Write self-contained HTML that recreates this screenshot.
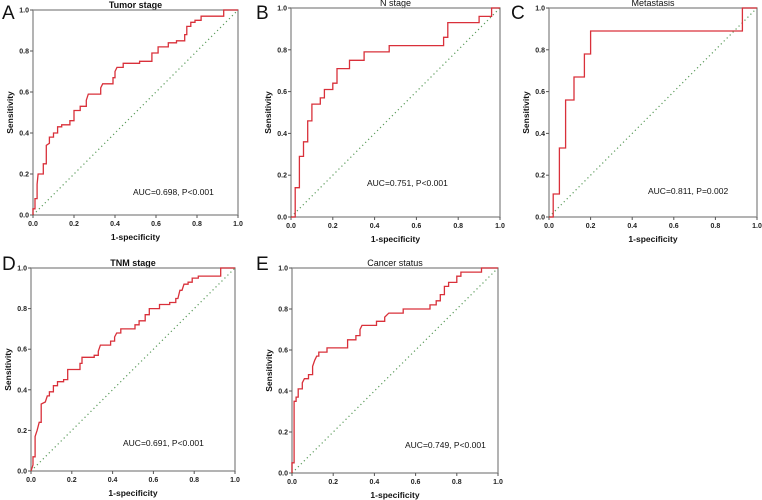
<!DOCTYPE html>
<html><head><meta charset="utf-8"><style>
html,body{margin:0;padding:0;background:#fff;}
svg{display:block;font-family:"Liberation Sans",Arial,sans-serif;}
</style></head><body>
<svg id="fig" width="762" height="500" viewBox="0 0 762 500" xmlns="http://www.w3.org/2000/svg"></svg>
<script>
const ticks = [0, 0.2, 0.4, 0.6, 0.8, 1.0];
const tickLabels = ["0.0","0.2","0.4","0.6","0.8","1.0"];
const panelLetters = ["A","B","C","D","E"];
const panelTitles = ["Tumor stage","N stage","Metastasis","TNM stage","Cancer status"];
const aucLabels = ["AUC=0.698, P<0.001","AUC=0.751, P<0.001","AUC=0.811, P=0.002","AUC=0.691, P<0.001","AUC=0.749, P<0.001"];
const fprA = [0,0,0.01,0.01,0.02,0.02,0.025,0.05,0.05,0.065,0.065,0.08,0.08,0.1,0.1,0.12,0.12,0.14,0.14,0.18,0.18,0.2,0.2,0.23,0.23,0.26,0.26,0.27,0.33,0.33,0.34,0.39,0.39,0.4,0.4,0.41,0.44,0.44,0.52,0.52,0.58,0.58,0.61,0.61,0.66,0.66,0.7,0.7,0.74,0.74,0.75,0.75,0.77,0.77,0.79,0.79,0.82,0.82,0.93,0.93,1];
const tprA = [0,0.03,0.03,0.08,0.08,0.15,0.2,0.2,0.25,0.25,0.34,0.35,0.38,0.38,0.4,0.4,0.43,0.43,0.44,0.44,0.46,0.46,0.51,0.51,0.53,0.53,0.56,0.59,0.59,0.62,0.64,0.64,0.67,0.67,0.7,0.72,0.72,0.74,0.74,0.75,0.75,0.79,0.79,0.82,0.82,0.84,0.84,0.85,0.85,0.88,0.88,0.92,0.92,0.94,0.94,0.95,0.95,0.97,0.97,1,1];
const fprB = [0,0.02,0.02,0.04,0.04,0.06,0.06,0.08,0.08,0.1,0.1,0.14,0.14,0.16,0.16,0.2,0.2,0.22,0.22,0.28,0.28,0.35,0.35,0.47,0.47,0.73,0.73,0.75,0.75,0.9,0.9,0.96,0.96,1];
const tprB = [0,0,0.14,0.14,0.29,0.29,0.36,0.36,0.46,0.46,0.54,0.54,0.57,0.57,0.61,0.61,0.64,0.64,0.71,0.71,0.75,0.75,0.79,0.79,0.82,0.82,0.86,0.86,0.93,0.93,0.96,0.96,1,1];
const fprC = [0,0.02,0.02,0.05,0.05,0.08,0.08,0.12,0.12,0.17,0.17,0.2,0.2,0.93,0.93,1];
const tprC = [0,0,0.11,0.11,0.33,0.33,0.56,0.56,0.67,0.67,0.78,0.78,0.89,0.89,1,1];
const fprD = [0,0.01,0.01,0.02,0.02,0.03,0.04,0.05,0.05,0.07,0.08,0.09,0.09,0.11,0.11,0.13,0.13,0.16,0.16,0.18,0.18,0.24,0.24,0.25,0.25,0.31,0.31,0.33,0.33,0.34,0.39,0.39,0.41,0.41,0.42,0.44,0.44,0.51,0.51,0.53,0.53,0.56,0.56,0.58,0.58,0.63,0.63,0.68,0.68,0.71,0.71,0.72,0.73,0.74,0.75,0.77,0.77,0.79,0.79,0.82,0.82,0.93,0.93,1];
const tprD = [0,0.03,0.07,0.07,0.17,0.2,0.24,0.24,0.33,0.34,0.37,0.37,0.39,0.39,0.42,0.42,0.44,0.44,0.45,0.45,0.5,0.5,0.53,0.53,0.56,0.56,0.57,0.57,0.59,0.62,0.62,0.64,0.64,0.66,0.68,0.68,0.7,0.7,0.72,0.72,0.74,0.74,0.77,0.77,0.8,0.8,0.82,0.82,0.83,0.83,0.85,0.85,0.89,0.89,0.92,0.92,0.93,0.93,0.95,0.95,0.96,0.96,1,1];
const fprE = [0,0,0.01,0.01,0.02,0.02,0.03,0.03,0.05,0.05,0.06,0.08,0.08,0.1,0.1,0.11,0.12,0.13,0.13,0.17,0.17,0.27,0.27,0.31,0.31,0.33,0.33,0.34,0.41,0.41,0.45,0.45,0.47,0.54,0.54,0.67,0.67,0.7,0.7,0.72,0.72,0.74,0.74,0.76,0.76,0.8,0.8,0.82,0.82,0.92,0.92,1];
const tprE = [0,0.05,0.05,0.35,0.35,0.37,0.37,0.41,0.41,0.44,0.46,0.46,0.48,0.48,0.52,0.55,0.57,0.57,0.59,0.59,0.61,0.61,0.65,0.65,0.67,0.67,0.7,0.72,0.72,0.74,0.74,0.76,0.78,0.78,0.8,0.8,0.82,0.82,0.84,0.84,0.87,0.87,0.91,0.91,0.93,0.93,0.96,0.96,0.98,0.98,1,1];

const panels = [
 {L:33,R:238,T:10,B:215, fpr:fprA,tpr:tprA, bold:true, lx:2,ly:19, aucX:133,aucY:195},
 {L:291,R:500,T:8,B:217, fpr:fprB,tpr:tprB, bold:false, lx:256,ly:19, aucX:367,aucY:186},
 {L:549,R:757,T:8,B:217, fpr:fprC,tpr:tprC, bold:false, lx:511,ly:19, aucX:648,aucY:194},
 {L:31,R:235,T:268,B:471, fpr:fprD,tpr:tprD, bold:true, lx:2,ly:270, aucX:123,aucY:446},
 {L:292,R:498,T:268,B:473, fpr:fprE,tpr:tprE, bold:false, lx:256,ly:270, aucX:405,aucY:448}
];
const svg = document.getElementById('fig');
const NS = 'http://www.w3.org/2000/svg';
function mk(tag, attrs, txt){const e=document.createElementNS(NS,tag);for(const k in attrs)e.setAttribute(k,attrs[k]);if(txt!==undefined)e.textContent=txt;return e;}

panels.forEach((p,i)=>{
  const g = mk('g',{});
  
  
  svg.appendChild(g);
  const xs = v => p.L + v*(p.R-p.L);
  const ys = v => p.B - v*(p.B-p.T);
  const letter = mk('text',{x:p.lx,y:p.ly,'font-size':19,fill:'#111'},panelLetters[i]);
  
  
  g.appendChild(letter);
  const title = mk('text',{x:(p.L+p.R)/2,y:p.T-2,'font-size':9,'text-anchor':'middle','font-weight':p.bold?'bold':'normal',fill:'#111'},panelTitles[i]);
  
  
  g.appendChild(title);
  const frame = mk('rect',{x:p.L,y:p.T,width:p.R-p.L,height:p.B-p.T,fill:'none',stroke:'#8a8a8a','stroke-width':1.3});
  
  
  g.appendChild(frame);
  ticks.forEach((t,j)=>{
    const tx = mk('line',{x1:xs(t),x2:xs(t),y1:p.B,y2:p.B+3,stroke:'#555','stroke-width':1});
    
    
    g.appendChild(tx);
    const ty = mk('line',{x1:p.L-3,x2:p.L,y1:ys(t),y2:ys(t),stroke:'#555','stroke-width':1});
    
    
    g.appendChild(ty);
    const lx = mk('text',{x:xs(t),y:p.B+11,'font-size':7,'font-weight':'bold','text-anchor':'middle',fill:'#222'},tickLabels[j]);
    
    
    g.appendChild(lx);
    const ly = mk('text',{x:p.L-4,y:ys(t)+2.5,'font-size':7,'font-weight':'bold','text-anchor':'end',fill:'#222'},tickLabels[j]);
    
    
    g.appendChild(ly);
  });
  const xt = mk('text',{x:(p.L+p.R)/2,y:p.B+25,'font-size':8.5,'font-weight':'bold','text-anchor':'middle',fill:'#111'},'1-specificity');
  
  
  g.appendChild(xt);
  const cy=(p.T+p.B)/2, cx=p.L-20;
  const yt = mk('text',{x:cx,y:cy,'font-size':8.5,'font-weight':'bold','text-anchor':'middle',fill:'#111',transform:`rotate(-90 ${cx} ${cy})`},'Sensitivity');
  
  
  g.appendChild(yt);
  const diag = mk('line',{x1:xs(0),y1:ys(0),x2:xs(1),y2:ys(1),stroke:'#5a9a5a','stroke-width':1.2,'stroke-dasharray':'1.2,3'});
  
  
  g.appendChild(diag);
  const pts = p.fpr.map((f,k)=>xs(f).toFixed(1)+','+ys(p.tpr[k]).toFixed(1)).join(' ');
  const curve = mk('polyline',{points:pts,fill:'none',stroke:'#d9303a','stroke-width':1.3});
  
  
  g.appendChild(curve);
  const auc = mk('text',{x:p.aucX,y:p.aucY,'font-size':8.5,fill:'#111'},aucLabels[i]);
  
  
  g.appendChild(auc);
});
</script>
</body></html>
